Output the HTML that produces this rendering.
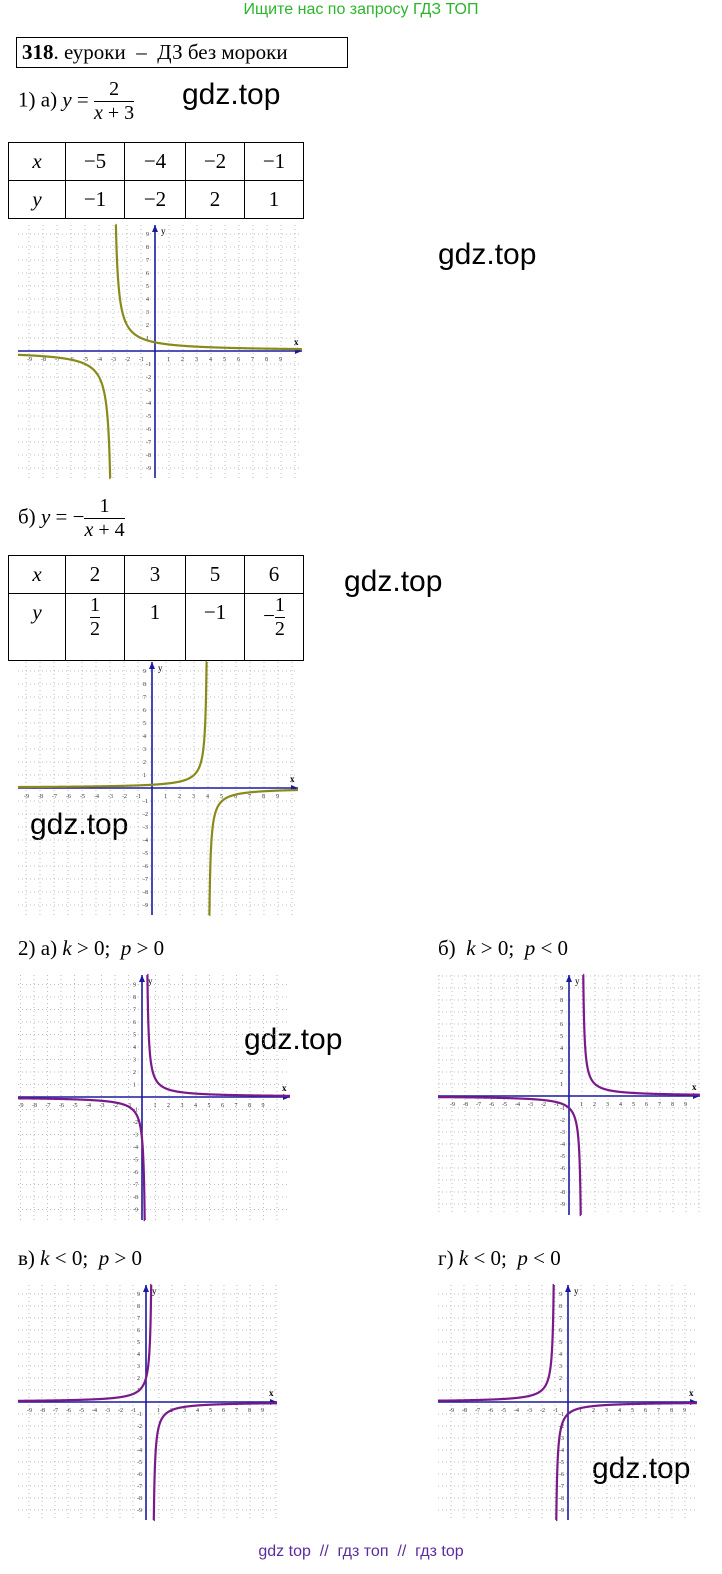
<!DOCTYPE html>
<html><head><meta charset="utf-8"><style>
body{margin:0;width:722px;height:1574px;position:relative;background:#fff;font-family:"Liberation Serif",serif;overflow:hidden}
.a{position:absolute;white-space:nowrap}
.s{font-family:"Liberation Sans",sans-serif}
.m{font-size:21px}
i{font-style:italic}
table{position:absolute;border-collapse:collapse;font-size:21px;table-layout:fixed}
td{border:1.5px solid #000;text-align:center;padding:0}
.fr{display:inline-block;vertical-align:middle;text-align:center;font-size:20px;line-height:23px}
.fr span{display:block}
.fr span:first-child{border-bottom:1.3px solid #000}
</style></head><body>
<div class="a s" style="left:0;width:722px;text-align:center;top:1px;font-size:16px;color:#2cb52c">Ищите нас по запросу ГДЗ ТОП</div>
<div class="a" style="left:16px;top:37px;width:325px;height:29px;border:1.5px solid #000;font-size:21px;line-height:29px;padding-left:5px"><b>318</b>. еуроки &nbsp;– &nbsp;ДЗ без мороки</div>
<div class="a m" style="left:18px;top:78px">1) а) <i>y</i> = <span class="fr"><span>2</span><span><i>x</i> + 3</span></span></div>
<div class="a s" style="left:182px;top:78px;font-size:30px">gdz.top</div>
<table style="left:8px;top:142px;width:295px"><colgroup><col style="width:57px"><col style="width:59px"><col style="width:61px"><col style="width:59px"><col style="width:59px"></colgroup><tr style="height:38px"><td><i>x</i></td><td>−5</td><td>−4</td><td>−2</td><td>−1</td></tr><tr style="height:38px"><td><i>y</i></td><td>−1</td><td>−2</td><td>2</td><td>1</td></tr></table>
<div class="a s" style="left:438px;top:238px;font-size:30px">gdz.top</div>
<div class="a m" style="left:18px;top:495px">б) <i>y</i> = −<span class="fr"><span>1</span><span><i>x</i> + 4</span></span></div>
<table style="left:8px;top:555px;width:295px"><colgroup><col style="width:57px"><col style="width:59px"><col style="width:61px"><col style="width:59px"><col style="width:59px"></colgroup><tr style="height:38px"><td><i>x</i></td><td>2</td><td>3</td><td>5</td><td>6</td></tr><tr style="height:67px;vertical-align:top"><td style="padding-top:6px"><i>y</i></td><td><span class="fr"><span>1</span><span>2</span></span></td><td style="padding-top:6px">1</td><td style="padding-top:6px">−1</td><td>−<span class="fr"><span>1</span><span>2</span></span></td></tr></table>
<div class="a s" style="left:344px;top:565px;font-size:30px">gdz.top</div>
<div class="a s" style="left:30px;top:808px;font-size:30px">gdz.top</div>
<div class="a m" style="left:18px;top:936px">2) а) <i>k</i> &gt; 0; &nbsp;<i>p</i> &gt; 0</div>
<div class="a m" style="left:438px;top:936px">б) &nbsp;<i>k</i> &gt; 0; &nbsp;<i>p</i> &lt; 0</div>
<div class="a s" style="left:244px;top:1023px;font-size:30px">gdz.top</div>
<div class="a m" style="left:18px;top:1246px">в) <i>k</i> &lt; 0; &nbsp;<i>p</i> &gt; 0</div>
<div class="a m" style="left:438px;top:1246px">г) <i>k</i> &lt; 0; &nbsp;<i>p</i> &lt; 0</div>
<div class="a s" style="left:592px;top:1452px;font-size:30px">gdz.top</div>
<div class="a s" style="left:0;width:722px;text-align:center;top:1543px;font-size:16px;color:#5a2ca0">gdz top &nbsp;// &nbsp;гдз топ &nbsp;// &nbsp;гдз top</div>
<svg id="g" width="722" height="1574" style="position:absolute;left:0;top:0"></svg>
<script>
var NS="http://www.w3.org/2000/svg",S=document.getElementById('g');
function el(t,a,txt){var e=document.createElementNS(NS,t);for(var k in a)e.setAttribute(k,a[k]);if(txt!=null)e.textContent=txt;S.appendChild(e);return e;}
function graph(x0,y0,x1,y1,ox,oy,ux,uy,f,col){
 for(var i=-12;i<=12;i++){var x=ox+i*ux;if(x>x0&&x<x1&&i)el('line',{x1:x,y1:y0,x2:x,y2:y1,stroke:'#aab',"stroke-width":0.8,"stroke-dasharray":"1,3"});
  var y=oy+i*uy;if(y>y0&&y<y1&&i)el('line',{x1:x0,y1:y,x2:x1,y2:y,stroke:'#aab',"stroke-width":0.8,"stroke-dasharray":"1,3"});}
 el('line',{x1:x0,y1:oy,x2:x1,y2:oy,stroke:'#1a1aa0',"stroke-width":1.6});
 el('line',{x1:ox,y1:y0,x2:ox,y2:y1,stroke:'#1a1aa0',"stroke-width":1.6});
 el('path',{d:'M'+x1+' '+oy+'l-7 -3v6z',fill:'#1a1aa0'});
 el('path',{d:'M'+ox+' '+y0+'l-3 7h6z',fill:'#1a1aa0'});
 el('text',{x:x1-8,y:oy-6,"font-size":9,"font-weight":"bold"},'x');
 el('text',{x:ox+6,y:y0+9,"font-size":9},'y');
 for(var i=-9;i<=9;i++){if(!i)continue;
  el('text',{x:ox+i*ux-2,y:oy+10,"font-size":6,fill:'#333'},i);
  el('text',{x:ox-9,y:oy-i*uy+2,"font-size":6,fill:'#333'},i);}
 var d='',pen=false;
 for(var px=x0;px<=x1;px+=0.1){var X=(px-ox)/ux,Y=f(X);var py=oy-Y*uy;
  if(!isFinite(py)||py<y0-30||py>y1+30){pen=false;continue;}
  py=Math.max(y0,Math.min(y1,py));
  d+=(pen?'L':'M')+px.toFixed(2)+' '+py.toFixed(2);pen=true;}
 el('path',{d:d,fill:'none',stroke:col,"stroke-width":2.2});
}
var O='#8a8a1a',P='#7a1a8a';
graph(18,225,302,478,155,351,14,13,function(x){return 2/(x+3)},O);
graph(18,662,298,915,152,788,14,13,function(x){return -1/(x-4)},O);
graph(18,975,290,1220,142,1097,13.5,12.5,function(x){return 1/(x-0.3)},P);
graph(438,975,700,1215,569,1096,13,12,function(x){return 1/(x-1)},P);
graph(18,1285,277,1520,146,1402,13,12,function(x){return -1/(x-0.5)},P);
graph(438,1285,697,1520,568,1402,13,12,function(x){return -1/(x+1)},P);
</script>
</body></html>
